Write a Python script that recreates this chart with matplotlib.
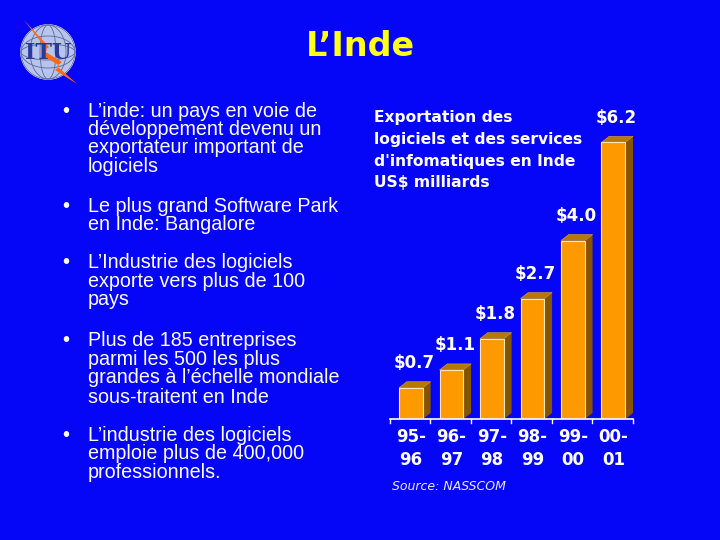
import matplotlib.pyplot as plt
from matplotlib.patches import Polygon, Circle, Ellipse

# chart data
periods = ["95-\n96", "96-\n97", "97-\n98", "98-\n99", "99-\n00", "00-\n01"]
exports = [0.7, 1.1, 1.8, 2.7, 4.0, 6.2]
value_labels = ["$0.7", "$1.1", "$1.8", "$2.7", "$4.0", "$6.2"]

title = "L\u2019Inde"
chart_title = ["Exportation des", "logiciels et des services",
               "d'infomatiques en Inde", "US$ milliards"]
bullets = [
    ["L\u2019inde: un pays en voie de", "développement devenu un",
     "exportateur important de", "logiciels"],
    ["Le plus grand Software Park", "en Inde: Bangalore"],
    ["L\u2019Industrie des logiciels", "exporte vers plus de 100", "pays"],
    ["Plus de 185 entreprises", "parmi les 500 les plus",
     "grandes à l\u2019échelle mondiale", "sous-traitent en Inde"],
    ["L\u2019industrie des logiciels", "emploie plus de 400,000",
     "professionnels."],
]
bullet_baselines = [[117, 135, 153, 172], [212, 230], [268, 287, 305],
                    [346, 365, 383, 403], [441, 459, 478]]

BG = "#0505f8"
ORANGE = "#ff9900"
SIDE = "#845400"
TOP = "#b87800"

fig = plt.figure(figsize=(7.2, 5.4), dpi=100, facecolor=BG)

# full-page layer in pixel coordinates
page = fig.add_axes([0, 0, 1, 1])
page.set_xlim(0, 720)
page.set_ylim(540, 0)
page.axis("off")

# ITU logo (rough)
page.add_patch(Circle((48, 52), 27, facecolor="#b8c4ee", edgecolor="#e8ecff", lw=1.2))
for w in (54, 36, 16):
    page.add_patch(Ellipse((48, 52), w, 54, fill=False, edgecolor="#5a6a9a", lw=0.6))
for h in (32, 16):
    page.add_patch(Ellipse((48, 52), 54, h, fill=False, edgecolor="#5a6a9a", lw=0.6))
page.text(48, 53, "ITU", color="#2a3a9c", fontsize=16, fontweight="bold",
          ha="center", va="center", family="DejaVu Serif")
page.add_patch(Polygon([(24, 20), (47, 50), (42, 55), (60, 66), (55, 70), (77, 84),
                        (57, 66), (62, 62), (44, 51), (49, 47)],
                       closed=True, facecolor="#ff6a10", edgecolor="none"))

page.text(360, 47, title, color="#ffff1a", fontsize=24, fontweight="bold",
          ha="center", va="center", family="DejaVu Sans")

for lines, ys in zip(bullets, bullet_baselines):
    page.text(62, ys[0], "\u2022", color="white", fontsize=14.5, va="baseline",
              family="Liberation Sans")
    for line, y in zip(lines, ys):
        page.text(88, y, line, color="white", fontsize=14.2, va="baseline",
                  family="Liberation Sans")

for line, y in zip(chart_title, [122, 144, 166, 187]):
    page.text(374, y, line, color="white", fontsize=11.2, fontweight="bold",
              va="baseline", family="DejaVu Sans")

page.text(392, 487, "Source: NASSCOM", color="#e8e8ff", fontsize=9,
          style="italic", va="center", family="DejaVu Sans")

# bar chart layer
ax = fig.add_axes([385 / 720, (540 - 419) / 540, 260 / 720, 319 / 540])
ax.set_xlim(-0.642, 5.78)
ax.set_ylim(0, 7.15)
ax.axis("off")

x = list(range(len(exports)))
w = 0.59
dx, dy = 0.19, 0.135
ax.bar(x, exports, width=w, color=ORANGE, edgecolor="#ffe9b8", linewidth=0.8, zorder=3)
for xi, v in zip(x, exports):
    r = xi + w / 2
    l = xi - w / 2
    ax.add_patch(Polygon([(r, 0), (r + dx, dy), (r + dx, v + dy), (r, v)],
                         closed=True, facecolor=SIDE, edgecolor="none", zorder=2))
    ax.add_patch(Polygon([(l, v), (l + dx, v + dy), (r + dx, v + dy), (r, v)],
                         closed=True, facecolor=TOP, edgecolor="#d9a040", lw=0.4, zorder=2))

# category axis
ax.plot([-0.52, 5.48], [0, 0], color="white", lw=1.2, clip_on=False, zorder=4)
for i in range(len(exports) + 1):
    ax.plot([i - 0.52, i - 0.52], [0, -0.09], color="white", lw=1, clip_on=False)

for xi, v, lab in zip(x, exports, value_labels):
    ax.text(xi + 0.08, v + dy + 0.22, lab, color="white", fontsize=12,
            fontweight="bold", ha="center", va="bottom", family="DejaVu Sans")

for xi, p in zip(x, periods):
    ax.text(xi, -0.2, p, color="white", fontsize=12, fontweight="bold",
            ha="center", va="top", linespacing=1.35, family="DejaVu Sans",
            clip_on=False)

fig.savefig("out.png", dpi=100, facecolor=BG)
